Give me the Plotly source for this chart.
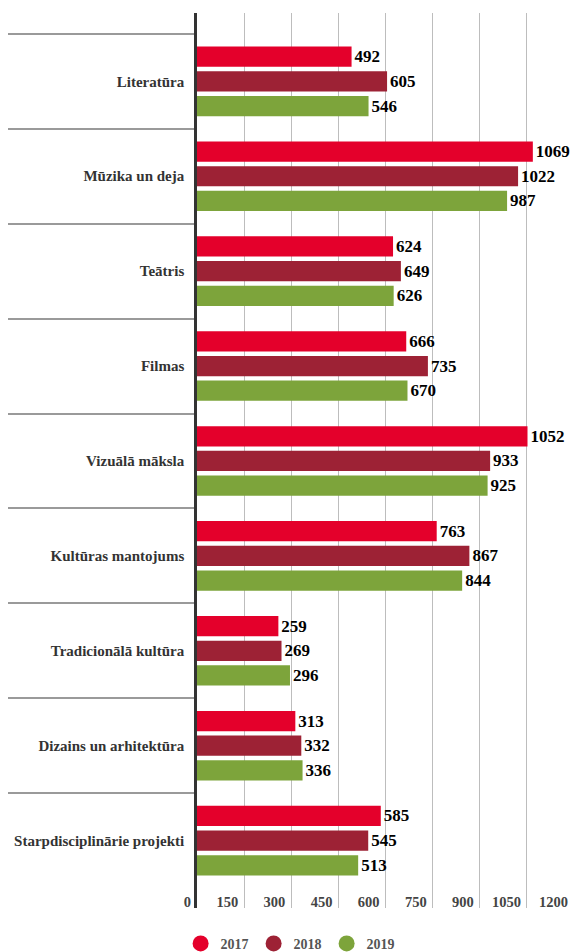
import plotly.graph_objects as go

categories = ["Literatūra", "Mūzika un deja", "Teātris", "Filmas", "Vizuālā māksla",
              "Kultūras mantojums", "Tradicionālā kultūra", "Dizains un arhitektūra",
              "Starpdisciplinārie projekti"]
years = ["2017", "2018", "2019"]
v2017 = [492, 1069, 624, 666, 1052, 763, 259, 313, 585]
v2018 = [605, 1022, 649, 735, 933, 867, 269, 332, 545]
v2019 = [546, 987, 626, 670, 925, 844, 296, 336, 513]
x_ticks = [0, 150, 300, 450, 600, 750, 900, 1050, 1200]

series = [v2017, v2018, v2019]
colors = ["#E4002B", "#9D2235", "#7DA43B"]
FONT = "Liberation Serif"

fig = go.Figure()
for name, vals, col in zip(years, series, colors):
    fig.add_trace(go.Bar(
        y=categories, x=vals, orientation="h", name=name,
        marker=dict(color=col, line=dict(width=0)),
        text=[str(v) for v in vals], textposition="outside",
        textfont=dict(family=FONT, size=17, color="#000000", weight="bold"),
        cliponaxis=False, constraintext="none", showlegend=False,
        legendgroup=name,
    ))
for name, col in zip(years, colors):
    fig.add_trace(go.Scatter(
        x=[None], y=[None], mode="markers", name=name, legendgroup=name,
        marker=dict(color=col, size=19, symbol="circle"),
    ))

fig.update_layout(
    width=574, height=952,
    margin=dict(l=197, r=0, t=13, b=44, autoexpand=False),
    paper_bgcolor="white", plot_bgcolor="white",
    barmode="group", bargap=0.22, bargroupgap=0.18,
    showlegend=True,
    legend=dict(orientation="h", x=0.247, xanchor="center", y=-0.04, yanchor="middle",
                font=dict(family=FONT, size=14, color="#555555", weight="bold"),
                itemsizing="trace", bgcolor="rgba(0,0,0,0)"),
    xaxis=dict(range=[0, 1200], tickvals=x_ticks, ticktext=[str(t) for t in x_ticks],
               showgrid=True, gridcolor="#BDBDBD", gridwidth=1, zeroline=False,
               showline=False, ticks="", ticklabelposition="inside left",
               ticklabeloverflow="allow", ticklabelshift=-6, ticklabelstandoff=-8,
               automargin=False,
               tickfont=dict(family=FONT, size=14.5, color="#444444", weight="bold")),
    yaxis=dict(autorange=False, range=[8.71, -0.72], type="category",
               showline=True, linecolor="#333333", linewidth=2.5,
               ticks="outside", tickson="boundaries", ticklen=186, tickwidth=1.5,
               tickcolor="#9A9A9A", showgrid=False, zeroline=False,
               ticklabelstandoff=7, automargin=False,
               tickfont=dict(family=FONT, size=15, color="#333333", weight="bold")),
)

fig.write_html("out.html", config={"displayModeBar": False},
               post_script="document.body.style.margin='0';document.body.style.overflow='hidden';")
